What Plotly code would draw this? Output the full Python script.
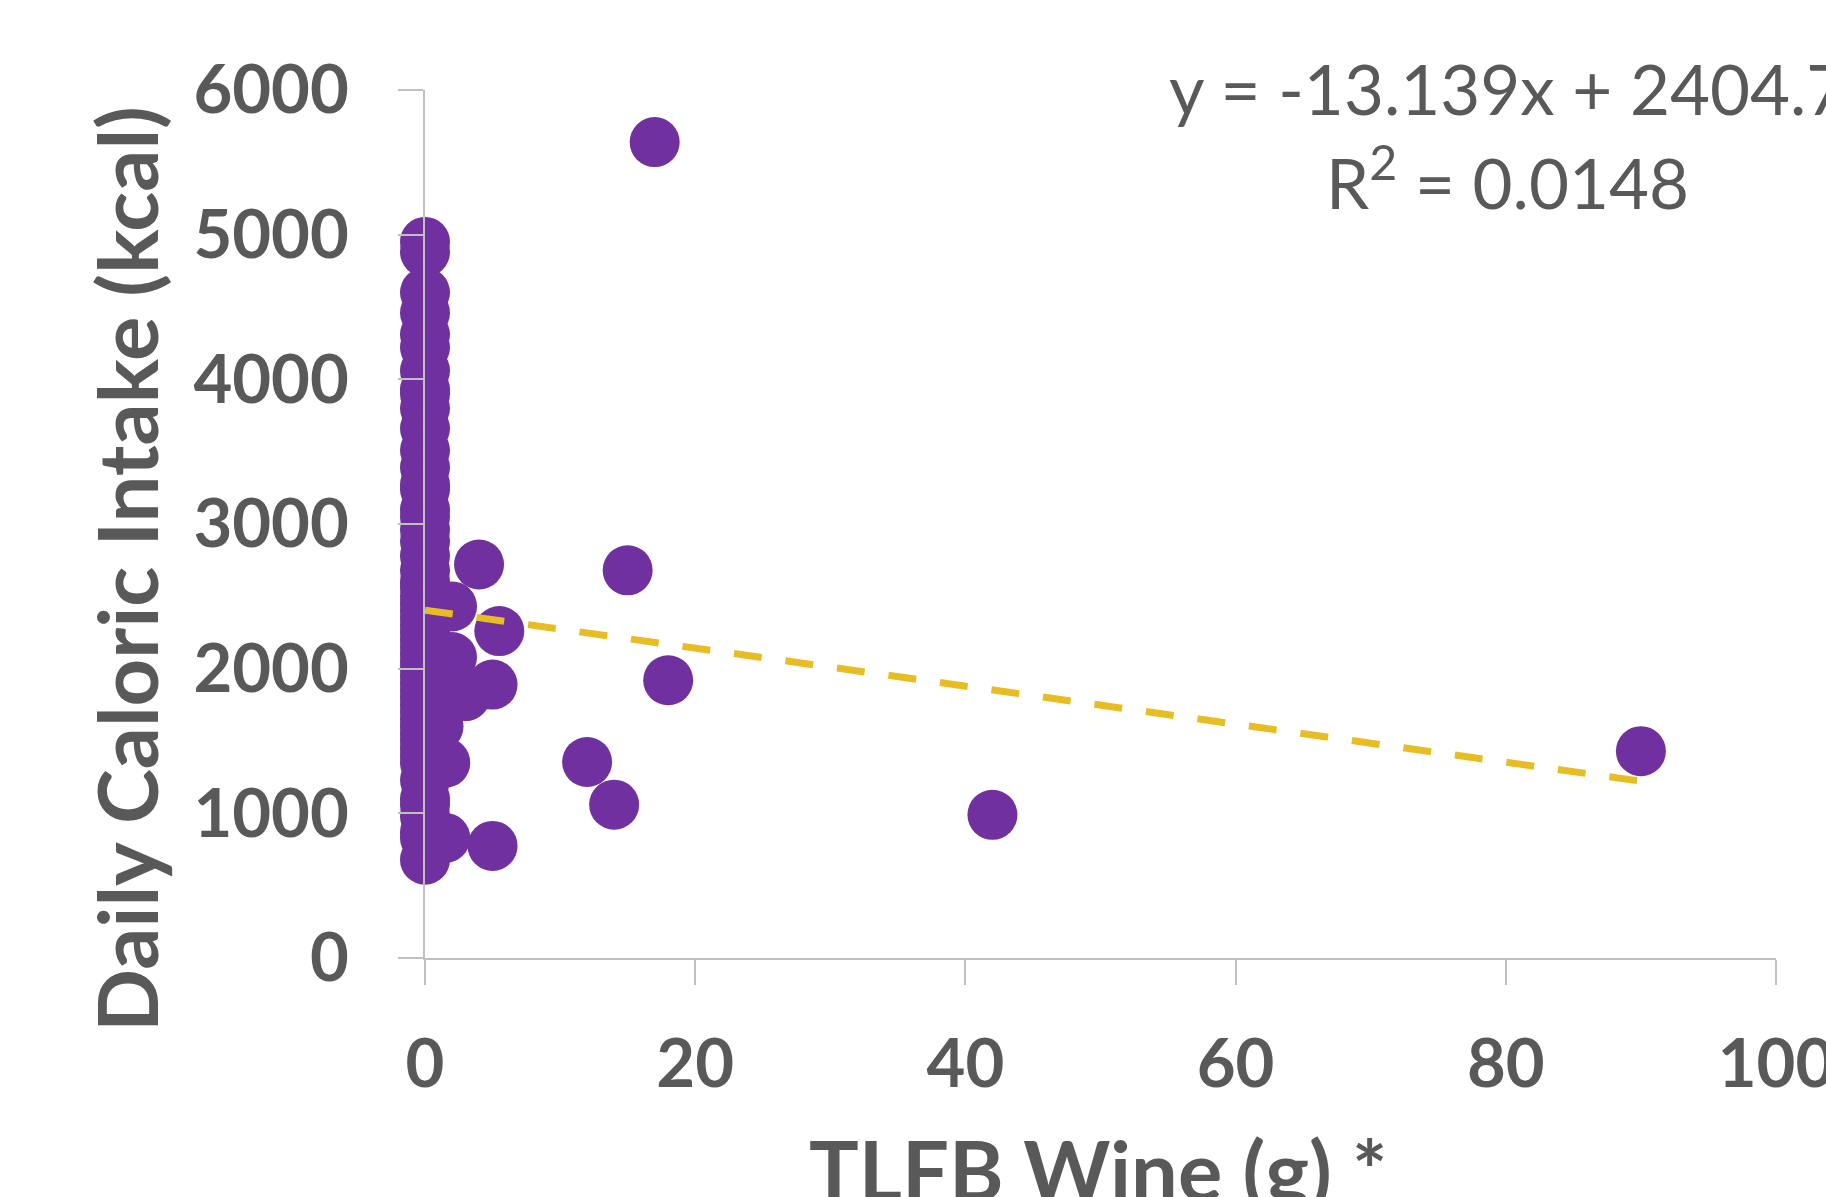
import plotly.graph_objects as go

# ---- data ----
wine_zero_kcal = [4950, 4880, 4600, 4460, 4310, 4220, 4060, 3930, 3900, 3800, 3660, 3510,
                  3390, 3270, 3240, 3100, 3050, 2960, 2880, 2780, 2680, 2600, 2560, 2500,
                  2450, 2400, 2350, 2300, 2250, 2200, 2150, 2100, 2050, 2000, 1950, 1900,
                  1850, 1800, 1750, 1700, 1650, 1600, 1550, 1500, 1450, 1400, 1350, 1230,
                  1100, 1060, 980, 870, 830, 680]
wine_other_g = [4, 15, 2, 5.5, 5, 18, 3, 2, 1.5, 1, 12, 14, 5, 1.5, 90, 42, 17]
wine_other_kcal = [2720, 2680, 2430, 2260, 1890, 1920, 1810, 2080, 1350, 1600, 1355, 1060,
                   775, 830, 1430, 990, 5640]

slope = -13.139
intercept = 2404.7
r_squared = 0.0148

x_ticks = [0, 20, 40, 60, 80, 100]
y_ticks = [0, 1000, 2000, 3000, 4000, 5000, 6000]

x_vals = [0] * len(wine_zero_kcal) + wine_other_g
y_vals = wine_zero_kcal + wine_other_kcal

trend_x = [min(x_vals), max(x_vals)]
trend_y = [slope * v + intercept for v in trend_x]

PURPLE = "#7030A0"
GOLD = "#E8BD24"
GREY_TXT = "#595959"
AXIS_GREY = "#C0C0C0"
FONT = "Lato"

fig = go.Figure()
fig.add_trace(go.Scatter(
    x=x_vals, y=y_vals, mode="markers",
    marker=dict(color=PURPLE, size=50, line=dict(width=0)),
    cliponaxis=False, showlegend=False, hoverinfo="x+y"))
fig.add_trace(go.Scatter(
    x=trend_x, y=trend_y, mode="lines",
    line=dict(color=GOLD, width=7, dash="28px,24px"),
    cliponaxis=False, showlegend=False))

fig.update_layout(
    width=1826, height=1197, autosize=False,
    margin=dict(l=425, r=50, t=90, b=239, pad=0, autoexpand=False),
    paper_bgcolor="white", plot_bgcolor="white",
    font=dict(family=FONT, color=GREY_TXT),
    xaxis=dict(range=[0, 100], tickvals=x_ticks, showgrid=False, zeroline=False,
               automargin=False,
               showline=True, linecolor=AXIS_GREY, linewidth=2,
               ticks="outside", ticklen=25, tickwidth=1.5, tickcolor=AXIS_GREY,
               ticklabelstandoff=22, ticklabeloverflow="allow",
               tickfont=dict(family=FONT, size=67, color=GREY_TXT, weight="bold")),
    yaxis=dict(range=[0, 6000], tickvals=y_ticks, showgrid=False, zeroline=False,
               automargin=False,
               showline=True, linecolor=AXIS_GREY, linewidth=1.5,
               ticks="outside", ticklen=25, tickwidth=1.5, tickcolor=AXIS_GREY,
               ticklabelstandoff=36, ticklabeloverflow="allow",
               tickfont=dict(family=FONT, size=67, color=GREY_TXT, weight="bold")),
)

fig.add_annotation(text="Daily Caloric Intake (kcal)", textangle=-90,
                   xref="paper", yref="paper", x=-0.2215, y=0.448,
                   xanchor="center", yanchor="middle", showarrow=False,
                   font=dict(family=FONT, size=83, color=GREY_TXT, weight="bold"))
fig.add_annotation(text="TLFB Wine (g) *",
                   xref="paper", yref="paper", x=0.4985, y=-0.183,
                   xanchor="center", yanchor="top", showarrow=False,
                   font=dict(family=FONT, size=83, color=GREY_TXT, weight="bold"))
fig.add_annotation(text=f"y = {slope}x + {intercept}",
                   xref="paper", yref="paper", x=0.801, y=1.0016,
                   xanchor="center", yanchor="middle", showarrow=False,
                   font=dict(family=FONT, size=69, color=GREY_TXT))
fig.add_annotation(text=f"R<sup>2</sup> = {r_squared}",
                   xref="paper", yref="paper", x=0.801, y=0.899,
                   xanchor="center", yanchor="middle", showarrow=False,
                   font=dict(family=FONT, size=69, color=GREY_TXT))

fig.write_html("out.html")
